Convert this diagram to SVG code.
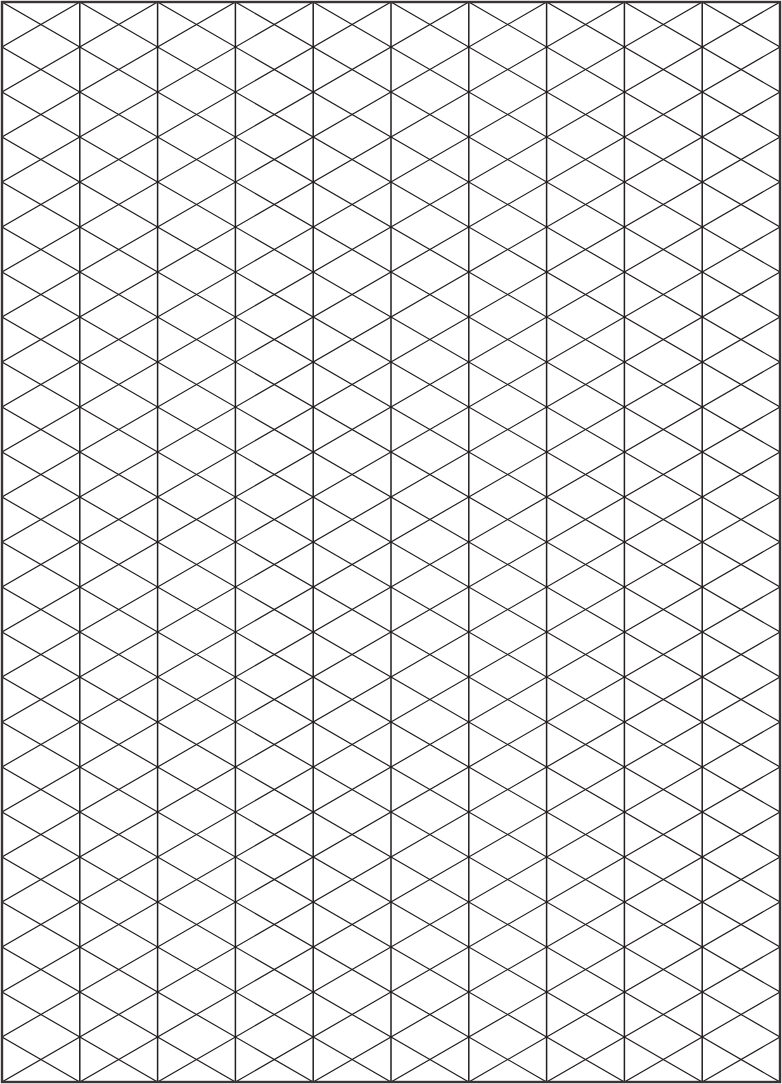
<svg xmlns="http://www.w3.org/2000/svg" width="782" height="1084" viewBox="0 0 782 1084">
<style>
.diag{fill:none;stroke:#231f20;stroke-width:1.2}
.vert{fill:none;stroke:#231f20;stroke-width:1.5}
.border{fill:none;stroke:#3a3435;stroke-width:2.4}
</style>
<defs><clipPath id="c"><rect x="2" y="2" width="778" height="1080"/></clipPath></defs>
<rect x="0" y="0" width="782" height="1084" fill="#ffffff"/>
<g id="grid" clip-path="url(#c)">
<path class="diag" d="M2 -448L780 2M2 -403L780 47M2 -358L780 92M2 -313L780 137M2 -268L780 182M2 -223L780 227M2 -178L780 272M2 -133L780 317M2 -88L780 362M2 -43L780 407M2 2L780 452M2 47L780 497M2 92L780 542M2 137L780 587M2 182L780 632M2 227L780 677M2 272L780 722M2 317L780 767M2 362L780 812M2 407L780 857M2 452L780 902M2 497L780 947M2 542L780 992M2 587L780 1037M2 632L780 1082M2 677L780 1127M2 722L780 1172M2 767L780 1217M2 812L780 1262M2 857L780 1307M2 902L780 1352M2 947L780 1397M2 992L780 1442M2 1037L780 1487M2 1082L780 1532"/>
<path class="diag" d="M2 2L780 -448M2 47L780 -403M2 92L780 -358M2 137L780 -313M2 182L780 -268M2 227L780 -223M2 272L780 -178M2 317L780 -133M2 362L780 -88M2 407L780 -43M2 452L780 2M2 497L780 47M2 542L780 92M2 587L780 137M2 632L780 182M2 677L780 227M2 722L780 272M2 767L780 317M2 812L780 362M2 857L780 407M2 902L780 452M2 947L780 497M2 992L780 542M2 1037L780 587M2 1082L780 632M2 1127L780 677M2 1172L780 722M2 1217L780 767M2 1262L780 812M2 1307L780 857M2 1352L780 902M2 1397L780 947M2 1442L780 992M2 1487L780 1037M2 1532L780 1082"/>
<path class="vert" d="M79.8 2V1082M157.6 2V1082M235.4 2V1082M313.2 2V1082M391 2V1082M468.8 2V1082M546.6 2V1082M624.4 2V1082M702.2 2V1082"/>
</g>
<rect id="frame" class="border" x="2" y="2" width="778" height="1080"/>
</svg>
